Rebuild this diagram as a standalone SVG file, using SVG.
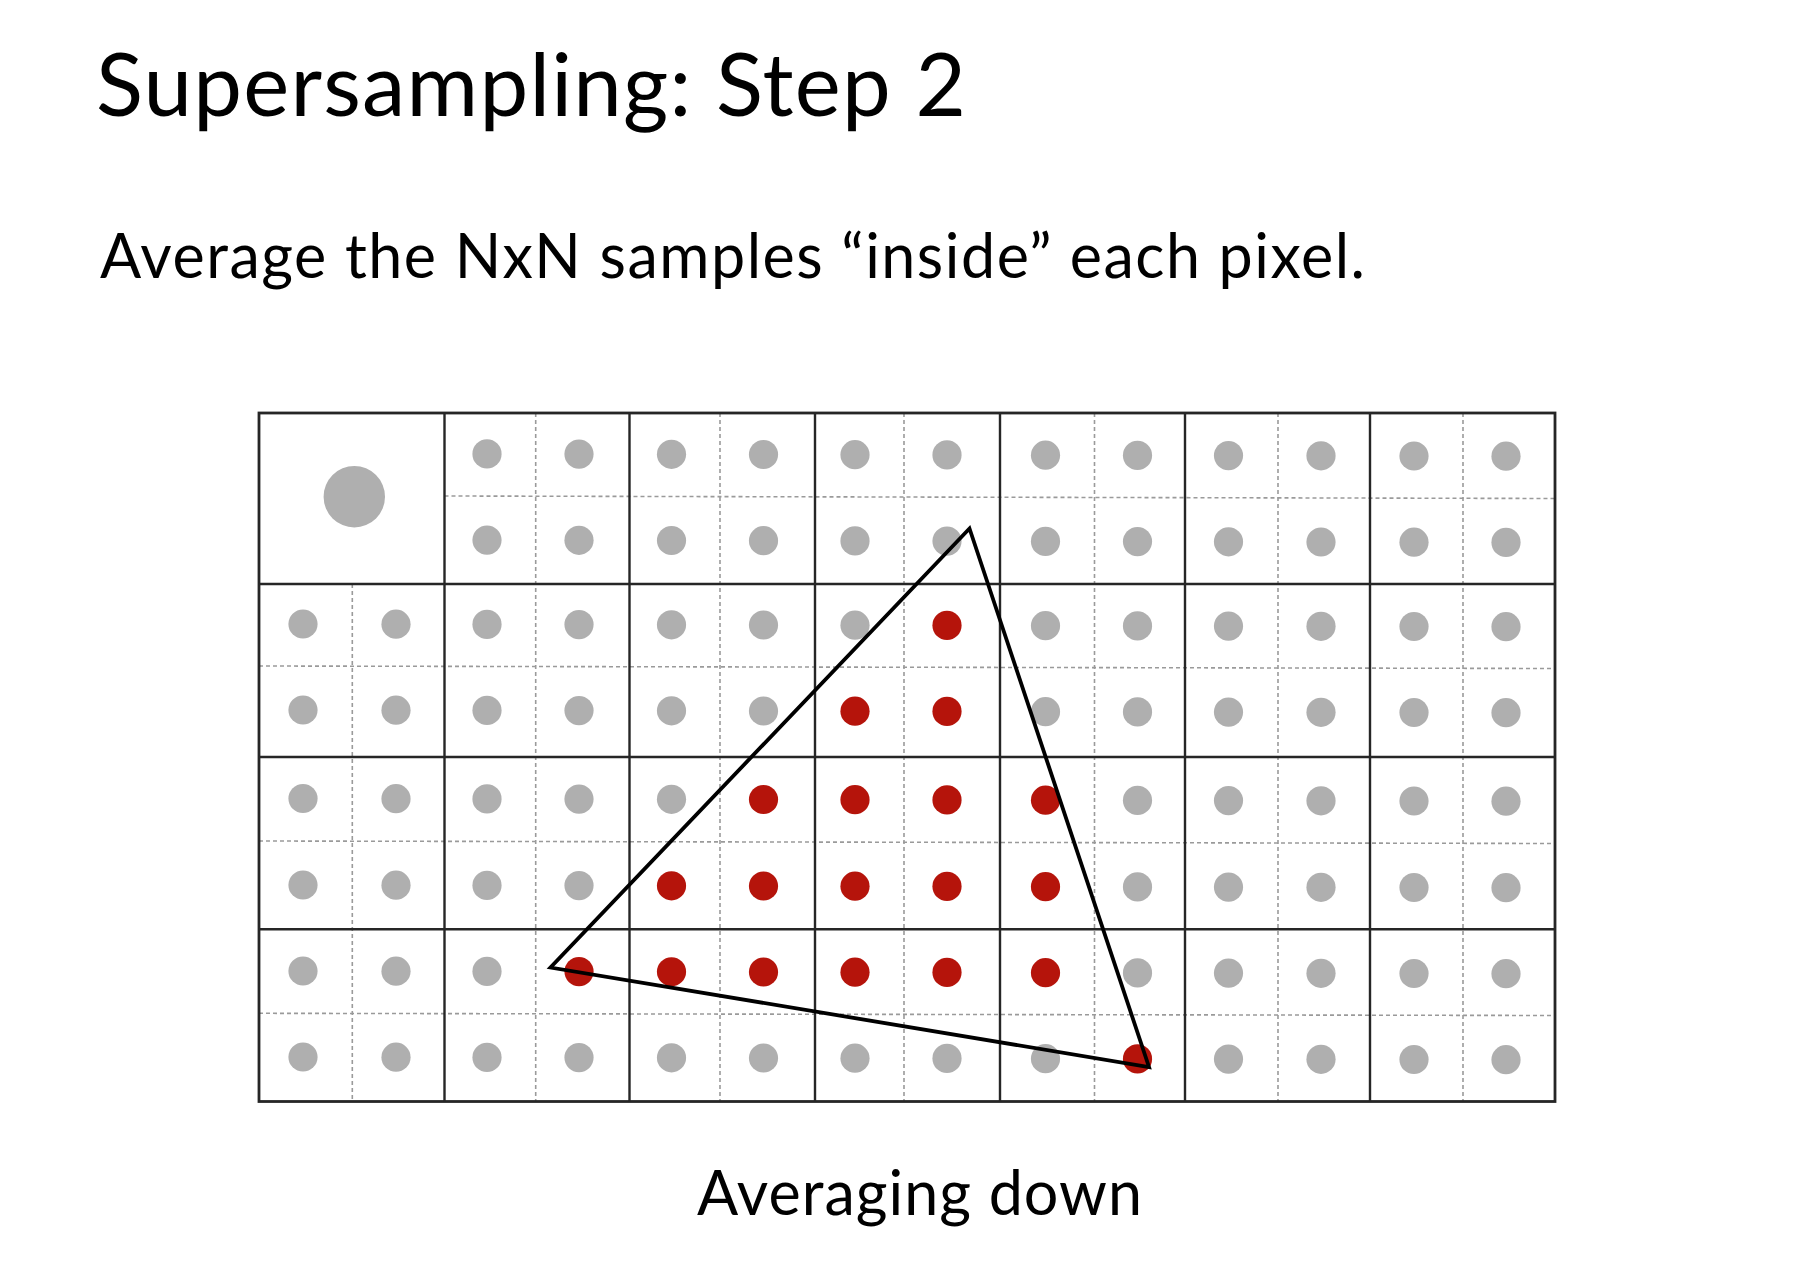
<svg xmlns="http://www.w3.org/2000/svg" width="1812" height="1264" viewBox="0 0 1812 1264">
<style>
.t{font-family:Lato,"Liberation Sans",Arial,sans-serif;fill:#000}
.g{fill:#afafaf}
.r{fill:#b5140b}
.dash{stroke:#9a9a9a;stroke-width:1.6;stroke-dasharray:4 3;fill:none}
.grid{stroke:#262626;stroke-width:2.4;fill:none}
</style>
<rect width="1812" height="1264" fill="#fff"/>
<text class="t" x="96" y="115.5" font-size="87" textLength="870" lengthAdjust="spacing">Supersampling: Step 2</text>
<text class="t" x="100" y="278" font-size="61" textLength="1265" lengthAdjust="spacing">Average the NxN samples “inside” each pixel.</text>

<g id="dashed-grid" class="dash">
<line x1="352.3" y1="584" x2="352.3" y2="1101.5"/>
<line x1="535.7" y1="413" x2="535.7" y2="1101.5"/>
<line x1="720" y1="413" x2="720" y2="1101.5"/>
<line x1="904" y1="413" x2="904" y2="1101.5"/>
<line x1="1094.5" y1="413" x2="1094.5" y2="1101.5"/>
<line x1="1278" y1="413" x2="1278" y2="1101.5"/>
<line x1="1463" y1="413" x2="1463" y2="1101.5"/>
<line x1="444.5" y1="496" x2="1555" y2="498.5"/>
<line x1="259" y1="666" x2="1555" y2="668.5"/>
<line x1="259" y1="841" x2="1555" y2="843.5"/>
<line x1="259" y1="1013.3" x2="1555" y2="1015.5"/>
</g>

<g id="pixel-grid" class="grid">
<rect x="259" y="413" width="1296" height="688.5" stroke-width="2.8"/>
<line x1="444.5" y1="413" x2="444.5" y2="1101.5"/>
<line x1="629.5" y1="413" x2="629.5" y2="1101.5"/>
<line x1="815" y1="413" x2="815" y2="1101.5"/>
<line x1="1000" y1="413" x2="1000" y2="1101.5"/>
<line x1="1185" y1="413" x2="1185" y2="1101.5"/>
<line x1="1370" y1="413" x2="1370" y2="1101.5"/>
<line x1="259" y1="584" x2="1555" y2="584"/>
<line x1="259" y1="757" x2="1555" y2="757"/>
<line x1="259" y1="929.3" x2="1555" y2="929.3"/>
</g>

<g id="pixel-sample">
<circle class="g" cx="354.3" cy="496.7" r="30.7"/>
</g>

<g id="samples">
<g transform="translate(303,0)"><circle class="g" r="14.6" cy="624"/><circle class="g" r="14.6" cy="710"/><circle class="g" r="14.6" cy="798.5"/><circle class="g" r="14.6" cy="885"/><circle class="g" r="14.6" cy="971"/><circle class="g" r="14.6" cy="1057"/></g>
<g transform="translate(396,0.2)"><circle class="g" r="14.6" cy="624"/><circle class="g" r="14.6" cy="710"/><circle class="g" r="14.6" cy="798.5"/><circle class="g" r="14.6" cy="885"/><circle class="g" r="14.6" cy="971"/><circle class="g" r="14.6" cy="1057"/></g>
<g transform="translate(487,0.4)"><circle class="g" r="14.6" cy="453.5"/><circle class="g" r="14.6" cy="539.7"/><circle class="g" r="14.6" cy="624"/><circle class="g" r="14.6" cy="710"/><circle class="g" r="14.6" cy="798.5"/><circle class="g" r="14.6" cy="885"/><circle class="g" r="14.6" cy="971"/><circle class="g" r="14.6" cy="1057"/></g>
<g transform="translate(579,0.6)"><circle class="g" r="14.6" cy="453.5"/><circle class="g" r="14.6" cy="539.7"/><circle class="g" r="14.6" cy="624"/><circle class="g" r="14.6" cy="710"/><circle class="g" r="14.6" cy="798.5"/><circle class="g" r="14.6" cy="885"/><circle class="r" r="14.6" cy="971"/><circle class="g" r="14.6" cy="1057"/></g>
<g transform="translate(671.5,0.8)"><circle class="g" r="14.6" cy="453.5"/><circle class="g" r="14.6" cy="539.7"/><circle class="g" r="14.6" cy="624"/><circle class="g" r="14.6" cy="710"/><circle class="g" r="14.6" cy="798.5"/><circle class="r" r="14.6" cy="885"/><circle class="r" r="14.6" cy="971"/><circle class="g" r="14.6" cy="1057"/></g>
<g transform="translate(763.5,1)"><circle class="g" r="14.6" cy="453.5"/><circle class="g" r="14.6" cy="539.7"/><circle class="g" r="14.6" cy="624"/><circle class="g" r="14.6" cy="710"/><circle class="r" r="14.6" cy="798.5"/><circle class="r" r="14.6" cy="885"/><circle class="r" r="14.6" cy="971"/><circle class="g" r="14.6" cy="1057"/></g>
<g transform="translate(855,1.2)"><circle class="g" r="14.6" cy="453.5"/><circle class="g" r="14.6" cy="539.7"/><circle class="g" r="14.6" cy="624"/><circle class="r" r="14.6" cy="710"/><circle class="r" r="14.6" cy="798.5"/><circle class="r" r="14.6" cy="885"/><circle class="r" r="14.6" cy="971"/><circle class="g" r="14.6" cy="1057"/></g>
<g transform="translate(947,1.4)"><circle class="g" r="14.6" cy="453.5"/><circle class="g" r="14.6" cy="539.7"/><circle class="r" r="14.6" cy="624"/><circle class="r" r="14.6" cy="710"/><circle class="r" r="14.6" cy="798.5"/><circle class="r" r="14.6" cy="885"/><circle class="r" r="14.6" cy="971"/><circle class="g" r="14.6" cy="1057"/></g>
<g transform="translate(1045.5,1.7)"><circle class="g" r="14.6" cy="453.5"/><circle class="g" r="14.6" cy="539.7"/><circle class="g" r="14.6" cy="624"/><circle class="g" r="14.6" cy="710"/><circle class="r" r="14.6" cy="798.5"/><circle class="r" r="14.6" cy="885"/><circle class="r" r="14.6" cy="971"/><circle class="g" r="14.6" cy="1057"/></g>
<g transform="translate(1137.5,1.9)"><circle class="g" r="14.6" cy="453.5"/><circle class="g" r="14.6" cy="539.7"/><circle class="g" r="14.6" cy="624"/><circle class="g" r="14.6" cy="710"/><circle class="g" r="14.6" cy="798.5"/><circle class="g" r="14.6" cy="885"/><circle class="g" r="14.6" cy="971"/><circle class="r" r="14.6" cy="1057"/></g>
<g transform="translate(1228.5,2.1)"><circle class="g" r="14.6" cy="453.5"/><circle class="g" r="14.6" cy="539.7"/><circle class="g" r="14.6" cy="624"/><circle class="g" r="14.6" cy="710"/><circle class="g" r="14.6" cy="798.5"/><circle class="g" r="14.6" cy="885"/><circle class="g" r="14.6" cy="971"/><circle class="g" r="14.6" cy="1057"/></g>
<g transform="translate(1321,2.3)"><circle class="g" r="14.6" cy="453.5"/><circle class="g" r="14.6" cy="539.7"/><circle class="g" r="14.6" cy="624"/><circle class="g" r="14.6" cy="710"/><circle class="g" r="14.6" cy="798.5"/><circle class="g" r="14.6" cy="885"/><circle class="g" r="14.6" cy="971"/><circle class="g" r="14.6" cy="1057"/></g>
<g transform="translate(1414,2.5)"><circle class="g" r="14.6" cy="453.5"/><circle class="g" r="14.6" cy="539.7"/><circle class="g" r="14.6" cy="624"/><circle class="g" r="14.6" cy="710"/><circle class="g" r="14.6" cy="798.5"/><circle class="g" r="14.6" cy="885"/><circle class="g" r="14.6" cy="971"/><circle class="g" r="14.6" cy="1057"/></g>
<g transform="translate(1506,2.7)"><circle class="g" r="14.6" cy="453.5"/><circle class="g" r="14.6" cy="539.7"/><circle class="g" r="14.6" cy="624"/><circle class="g" r="14.6" cy="710"/><circle class="g" r="14.6" cy="798.5"/><circle class="g" r="14.6" cy="885"/><circle class="g" r="14.6" cy="971"/><circle class="g" r="14.6" cy="1057"/></g>
</g>

<g id="triangle">
<polygon points="969.5,528.5 550.5,967.5 1149,1067" fill="none" stroke="#000" stroke-width="3.8" stroke-linejoin="miter"/>
</g>

<text class="t" x="697" y="1215" font-size="61" textLength="445" lengthAdjust="spacing">Averaging down</text>
</svg>
